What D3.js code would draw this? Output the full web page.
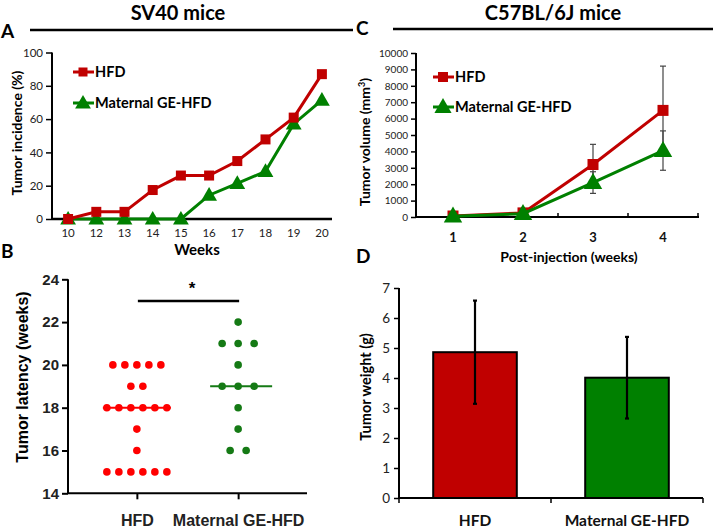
<!DOCTYPE html>
<html><head><meta charset="utf-8">
<script src="https://cdn.jsdelivr.net/npm/d3@7"></script>
<style>body{margin:0;background:#fff}svg{display:block}</style>
</head><body>
<svg id="c" width="716" height="528"></svg>
<script>
// ---------- data ----------
const weeksA = ["10","12","13","14","15","16","17","18","19","20"];
const incidenceHFD = [0, 4.3, 4.3, 17.4, 26.1, 26.1, 34.8, 47.8, 60.9, 87.0];
const incidenceGE  = [0, 0, 0, 0, 0, 14.3, 21.4, 28.6, 57.1, 71.4];
const ticksA = [0, 20, 40, 60, 80, 100];

const groupsB = ["HFD", "Maternal GE-HFD"];
const latencyHFD = [20,20,20,20,20,19,19,18,18,18,18,18,18,17,16,15,15,15,15,15,15];
const latencyGE  = [22,21,21,21,20,19,19,19,18,17,16,16];
const ticksB = [14, 16, 18, 20, 22, 24];

const weeksC = ["1","2","3","4"];
const volumeHFD = [60, 250, 3200, 6500];
const volumeHFDerr = [0, 0, 1230, 2700];
const volumeGE  = [50, 200, 2100, 4050];
const volumeGEerr = [0, 0, 660, 1200];
const ticksC = [0,1000,2000,3000,4000,5000,6000,7000,8000,9000,10000];

const groupsD = ["HFD", "Maternal GE-HFD"];
const weightMean = [4.86, 4.01];
const weightErr = [1.72, 1.36];
const ticksD = [0,1,2,3,4,5,6,7];

const seriesNames = ["HFD", "Maternal GE-HFD"];

// ---------- styles ----------
const RED = "#c00000", GREEN = "#008000";
const RED_B = "#ff0000", GREEN_B = "#157a15";
const F = "Lato, 'Open Sans', sans-serif";
const FB = "'Liberation Sans', Arial, sans-serif";
const fmt = d3.format("d");

const svg = d3.select("#c");

// ---------- headers ----------
function header(cx, x1, x2, y, title) {
  svg.append("text").attr("x", cx).attr("y", 20).attr("text-anchor","middle")
    .attr("font-family", F).attr("font-weight","bold").attr("font-size", 20).text(title);
  svg.append("line").attr("x1", x1).attr("x2", x2).attr("y1", y).attr("y2", y)
    .attr("stroke","#000").attr("stroke-width", 2.5);
}
header(178, 30, 353, 30, "SV40 mice");
header(553, 393, 713, 29, "C57BL/6J mice");
function letter(x, y, t) {
  svg.append("text").attr("x", x).attr("y", y).attr("font-family", F)
    .attr("font-weight","bold").attr("font-size", 19).text(t);
}
letter(1, 38, "A"); letter(1, 258, "B"); letter(356, 35, "C"); letter(356, 263, "D");

function marker(g, type, x, y, color, s) {
  if (type === "square") {
    g.append("rect").attr("x", x - s/2).attr("y", y - s/2).attr("width", s).attr("height", s).attr("fill", color);
  } else {
    const sym = d3.symbol().type(d3.symbolTriangle).size(s*s*0.75);
    g.append("path").attr("d", sym()).attr("transform", `translate(${x},${y+1})`).attr("fill", color);
  }
}

// ---------- Panel A ----------
{
  const g = svg.append("g");
  const x = d3.scaleBand().domain(weeksA).range([54, 336]);
  const y = d3.scaleLinear().domain([0, 100]).range([219, 52.5]);
  const ax = g.append("g").attr("transform","translate(52,0)")
    .call(d3.axisLeft(y).tickValues(ticksA).tickFormat(fmt).tickSize(6).tickPadding(3));
  ax.select(".domain").attr("stroke-width", 2).attr("d", `M-0,${y(100)}V${y(0)}`);
  ax.selectAll(".tick line").attr("stroke-width", 1.5);
  ax.selectAll("text").attr("font-family", F).attr("font-size", 11.5).attr("fill","#222");
  const bx = g.append("g").attr("transform",`translate(0,${y(0)})`)
    .call(d3.axisBottom(x).tickSize(0).tickPadding(10));
  bx.select(".domain").attr("stroke-width", 2.5).attr("d", `M52,0H332`);
  bx.selectAll("text").attr("font-family", F).attr("font-size", 11.5).attr("fill","#222");
  const cx = d => x(d) + x.bandwidth()/2;
  const line = d3.line().x((d,i) => cx(weeksA[i])).y(d => y(d));
  [[incidenceGE, GREEN, "tri"], [incidenceHFD, RED, "square"]].forEach(([vals, col, type]) => {
    g.append("path").datum(vals).attr("d", line).attr("fill","none").attr("stroke", col).attr("stroke-width", 3);
    vals.forEach((v,i) => marker(g, type, cx(weeksA[i]), y(v), col, type==="square"?10:12));
  });
  // legend
  [[RED,"square",72],[GREEN,"tri",103]].forEach(([col,type,ly],i) => {
    g.append("line").attr("x1",73).attr("x2",94).attr("y1",ly).attr("y2",ly).attr("stroke",col).attr("stroke-width",3);
    marker(g, type, 83, ly, col, type==="square"?9:12);
    g.append("text").attr("x",95).attr("y",ly+5).attr("font-family",F).attr("font-weight","bold")
      .attr("font-size",14.5).text(seriesNames[i]);
  });
  g.append("text").attr("transform","translate(22,133) rotate(-90)").attr("text-anchor","middle")
    .attr("font-family",F).attr("font-weight","bold").attr("font-size",14).text("Tumor incidence (%)");
  g.append("text").attr("x",197).attr("y",255).attr("text-anchor","middle")
    .attr("font-family",F).attr("font-weight","bold").attr("font-size",15).text("Weeks");
}

// ---------- Panel B ----------
{
  const g = svg.append("g");
  const x = d3.scalePoint().domain(groupsB).range([68, 307]).padding(0.68);
  const y = d3.scaleLinear().domain([14, 24]).range([493.3, 279.3]);
  const ax = g.append("g").attr("transform","translate(68,0)")
    .call(d3.axisLeft(y).tickValues(ticksB).tickFormat(fmt).tickSize(6).tickPadding(3));
  ax.select(".domain").attr("stroke-width", 2).attr("d", `M0,${y(24)}V${y(14)}`);
  ax.selectAll(".tick line").attr("stroke-width", 2);
  ax.selectAll("text").attr("font-family", FB).attr("font-weight","bold").attr("font-size", 15).attr("fill","#222");
  const bx = g.append("g").attr("transform",`translate(0,${y(14)})`)
    .call(d3.axisBottom(x).tickSize(6).tickPadding(15));
  bx.select(".domain").attr("stroke-width", 2).attr("d", `M68,0H307`);
  bx.selectAll(".tick line").attr("stroke-width", 2);
  bx.selectAll("text").attr("font-family", FB).attr("font-weight","bold").attr("font-size", 16).attr("fill","#222");
  const groups = [[latencyHFD, RED_B, 12, 34], [latencyGE, GREEN_B, 16, 28]];
  groups.forEach(([vals, col, sp, hw], gi) => {
    const cxg = x(groupsB[gi]);
    const byVal = d3.group(vals, d => d);
    byVal.forEach((arr, v) => {
      arr.forEach((_, i) => {
        g.append("circle").attr("cx", cxg + (i - (arr.length-1)/2)*sp).attr("cy", y(v))
          .attr("r", 3.8).attr("fill", col);
      });
    });
    const med = d3.median(vals);
    g.append("line").attr("x1", cxg - hw).attr("x2", cxg + hw + (gi?6:0)).attr("y1", y(med)).attr("y2", y(med))
      .attr("stroke", col).attr("stroke-width", 2);
  });
  g.append("line").attr("x1", x(groupsB[0])+1).attr("x2", x(groupsB[1])+1).attr("y1",301).attr("y2",301)
    .attr("stroke","#000").attr("stroke-width",2.5);
  g.append("text").attr("x",192).attr("y",294).attr("text-anchor","middle").attr("font-family",FB)
    .attr("font-weight","bold").attr("font-size",17).text("*");
  g.append("text").attr("transform","translate(28,377) rotate(-90)").attr("text-anchor","middle")
    .attr("font-family",FB).attr("font-weight","bold").attr("font-size",16).text("Tumor latency (weeks)");
}

// ---------- Panel C ----------
{
  const g = svg.append("g");
  const x = d3.scaleBand().domain(weeksC).range([418, 698]);
  const y = d3.scaleLinear().domain([0, 10000]).range([217, 53]);
  const ax = g.append("g").attr("transform","translate(416,0)")
    .call(d3.axisLeft(y).tickValues(ticksC).tickFormat(fmt).tickSize(5).tickPadding(3));
  ax.select(".domain").attr("stroke-width", 2).attr("d", `M0,${y(10000)}V${y(0)}`);
  ax.selectAll(".tick line").attr("stroke-width", 1.5);
  ax.selectAll("text").attr("font-family", F).attr("font-size", 10).attr("fill","#222");
  const bx = g.append("g").attr("transform",`translate(0,${y(0)})`)
    .call(d3.axisBottom(x).tickSize(0).tickPadding(16));
  bx.select(".domain").attr("stroke-width", 2).attr("d", `M416,0H699`);
  bx.selectAll("text").attr("font-family", F).attr("font-weight","bold").attr("font-size", 13).attr("fill","#111");
  // boundary ticks
  weeksC.forEach((w,i) => {
    const bxp = x(w) + x.bandwidth();
    g.append("line").attr("x1",bxp).attr("x2",bxp).attr("y1",y(0)).attr("y2",y(0)-4).attr("stroke","#000").attr("stroke-width",1.5);
  });
  const cx = d => x(d) + x.bandwidth()/2;
  // error bars
  [[volumeHFD, volumeHFDerr],[volumeGE, volumeGEerr]].forEach(([vals, errs]) => {
    vals.forEach((v,i) => {
      if (!errs[i]) return;
      const xx = cx(weeksC[i]);
      g.append("line").attr("x1",xx).attr("x2",xx).attr("y1",y(v-errs[i])).attr("y2",y(v+errs[i]))
        .attr("stroke","#444").attr("stroke-width",1.2);
      [v-errs[i], v+errs[i]].forEach(e => g.append("line").attr("x1",xx-3).attr("x2",xx+3)
        .attr("y1",y(e)).attr("y2",y(e)).attr("stroke","#444").attr("stroke-width",1.2));
    });
  });
  const line = d3.line().x((d,i) => cx(weeksC[i])).y(d => y(d));
  [[volumeHFD, RED, "square"], [volumeGE, GREEN, "tri"]].forEach(([vals, col, type]) => {
    g.append("path").datum(vals).attr("d", line).attr("fill","none").attr("stroke", col).attr("stroke-width", 3);
    vals.forEach((v,i) => marker(g, type, cx(weeksC[i]), y(v), col, type==="square"?11:14));
  });
  [[RED,"square",77],[GREEN,"tri",107]].forEach(([col,type,ly],i) => {
    g.append("line").attr("x1",433).attr("x2",454).attr("y1",ly).attr("y2",ly).attr("stroke",col).attr("stroke-width",3);
    marker(g, type, 443, ly, col, type==="square"?10:13);
    g.append("text").attr("x",455).attr("y",ly+5).attr("font-family",F).attr("font-weight","bold")
      .attr("font-size",14.5).text(seriesNames[i]);
  });
  const yl = g.append("text").attr("transform","translate(370,142) rotate(-90)").attr("text-anchor","middle")
    .attr("font-family",F).attr("font-weight","bold").attr("font-size",14);
  yl.append("tspan").text("Tumor volume (mm");
  yl.append("tspan").attr("dy",-5).attr("font-size",9).text("3");
  yl.append("tspan").attr("dy",5).text(")");
  g.append("text").attr("x",569).attr("y",262).attr("text-anchor","middle")
    .attr("font-family",F).attr("font-weight","bold").attr("font-size",14).text("Post-injection (weeks)");
}

// ---------- Panel D ----------
{
  const g = svg.append("g");
  const x = d3.scaleBand().domain(groupsD).range([399, 703]);
  const y = d3.scaleLinear().domain([0, 7]).range([498, 288]);
  const ax = g.append("g").attr("transform","translate(399,0)")
    .call(d3.axisLeft(y).tickValues(ticksD).tickFormat(fmt).tickSize(5).tickPadding(4));
  ax.select(".domain").attr("stroke-width", 2).attr("d", `M0,${y(7)}V${y(0)}`);
  ax.selectAll(".tick line").attr("stroke-width", 1.5);
  ax.selectAll("text").attr("font-family", F).attr("font-size", 13.5).attr("fill","#222");
  const bx = g.append("g").attr("transform",`translate(0,${y(0)})`)
    .call(d3.axisBottom(x).tickSize(0).tickPadding(17));
  bx.select(".domain").attr("stroke-width", 2).attr("d", `M399,0H703`);
  bx.selectAll("text").attr("font-family", F).attr("font-weight","bold").attr("font-size", 15.5).attr("fill","#111");
  [0,1,2].forEach(i => {
    const tx = 399 + i * x.step();
    g.append("line").attr("x1",tx).attr("x2",tx).attr("y1",y(0)).attr("y2",y(0)+5).attr("stroke","#000").attr("stroke-width",1.5);
  });
  const bw = x.bandwidth()*0.55;
  const cols = [RED, GREEN];
  groupsD.forEach((gname,i) => {
    const cx = x(gname) + x.bandwidth()/2;
    g.append("rect").attr("x", cx - bw/2).attr("y", y(weightMean[i])).attr("width", bw)
      .attr("height", y(0) - y(weightMean[i])).attr("fill", cols[i]).attr("stroke","#000").attr("stroke-width",2);
    g.append("line").attr("x1",cx).attr("x2",cx).attr("y1",y(weightMean[i]-weightErr[i])).attr("y2",y(weightMean[i]+weightErr[i]))
      .attr("stroke","#000").attr("stroke-width",2.2);
    [weightMean[i]-weightErr[i], weightMean[i]+weightErr[i]].forEach(e => g.append("line")
      .attr("x1",cx-2).attr("x2",cx+2).attr("y1",y(e)).attr("y2",y(e)).attr("stroke","#000").attr("stroke-width",2.2));
  });
  g.append("text").attr("transform","translate(371,387) rotate(-90)").attr("text-anchor","middle")
    .attr("font-family",F).attr("font-weight","bold").attr("font-size",14.5).text("Tumor weight (g)");
}
</script>
</body></html>
